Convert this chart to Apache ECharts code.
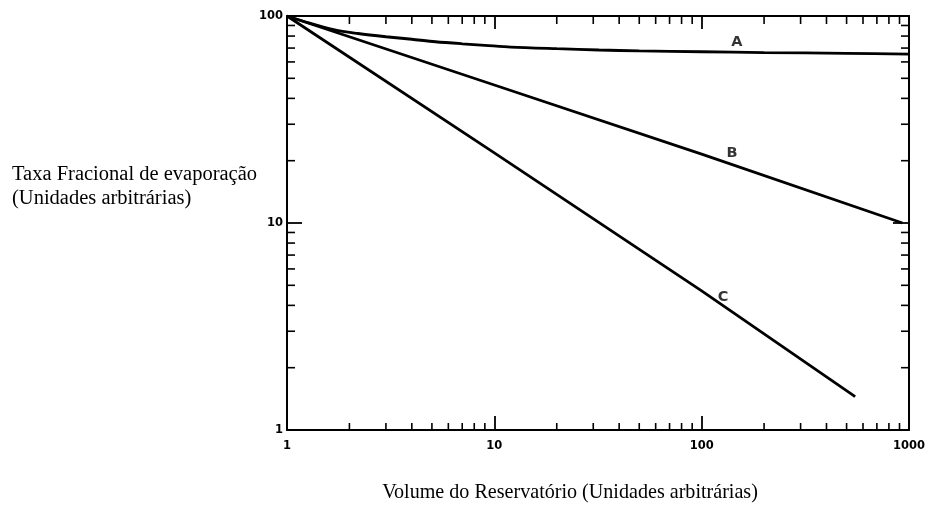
<!DOCTYPE html>
<html>
<head>
<meta charset="utf-8">
<script src="https://cdn.jsdelivr.net/npm/echarts@6/dist/echarts.min.js"></script>
<style>
html,body{margin:0;padding:0;background:#fff;}
#chart{width:925px;height:506px;}
</style>
</head>
<body>
<div id="chart"></div>
<script>
// Data (log-log)
const curveA = [[1,100],[1.22,93.8],[1.7,85.6],[2.2,82.3],[3,79.4],[4,77.2],[5.2,75.1],[7,73.4],[9,72.2],[12,70.8],[20,69.5],[32,68.5],[50,67.8],[100,67.2],[200,66.6],[500,66],[1000,65.5]];
const curveB = [[1,100],[10,46.4],[100,21.5],[930,10]];
const curveC = [[1,100],[10,21.8],[100,4.7],[550,1.45]];
const curveLabels = ['A','B','C'];
const labelPos = [[148,74.9],[140,21.8],[127,4.39]];
const xMinorTicks = [2,3,4,5,6,7,8,9,20,30,40,50,60,70,80,90,200,300,400,500,600,700,800,900];
const yMinorTicks = [2,3,4,5,6,7,8,9,20,30,40,50,60,70,80,90];
const xTickLabels = {1:'1', 10:'10', 100:'100', 1000:'1000'};
const yTickLabels = {1:'1', 10:'10', 100:'100'};
const xRange = [1,1000];
const yRange = [1,100];
const yTitleLines = ['Taxa Fracional de evaporação','(Unidades arbitrárias)'];
const xTitle = 'Volume do Reservatório (Unidades arbitrárias)';

const chart = echarts.init(document.getElementById('chart'), null, {renderer:'canvas'});
const tickFont = {fontFamily:'DejaVu Sans', fontWeight:'bold', fontSize:11.5, color:'#000'};
const lineStyleBase = {color:'#000', width:2.8};

function lab(map){ return function(v){ const k = Math.round(v); return map[k] !== undefined ? map[k] : ''; }; }

function xTickRender(params, api){
  const v = api.value(0);
  const b = api.coord([v, yRange[0]]);
  const t = api.coord([v, yRange[1]]);
  return {type:'group', children:[
    {type:'line', shape:{x1:b[0],y1:b[1],x2:b[0],y2:b[1]-7}, style:{stroke:'#000', lineWidth:1.6}},
    {type:'line', shape:{x1:t[0],y1:t[1],x2:t[0],y2:t[1]+8}, style:{stroke:'#000', lineWidth:1.6}}
  ]};
}
function yTickRender(params, api){
  const v = api.value(1);
  const l = api.coord([xRange[0], v]);
  const r = api.coord([xRange[1], v]);
  return {type:'group', children:[
    {type:'line', shape:{x1:l[0],y1:l[1],x2:l[0]+8,y2:l[1]}, style:{stroke:'#000', lineWidth:1.6}},
    {type:'line', shape:{x1:r[0],y1:r[1],x2:r[0]-8,y2:r[1]}, style:{stroke:'#000', lineWidth:1.6}}
  ]};
}

const option = {
  animation:false,
  backgroundColor:'#fff',
  grid:{left:287, right:16, top:16, bottom:76, containLabel:false, outerBoundsMode:'none'},
  xAxis:[
    {type:'log', logBase:10, min:xRange[0], max:xRange[1], position:'bottom',
     axisLine:{show:true, onZero:false, lineStyle:{color:'#000', width:2}},
     axisTick:{show:true, inside:true, length:14, lineStyle:{color:'#000', width:1.8}},
     axisLabel:Object.assign({margin:10, formatter:lab(xTickLabels), hideOverlap:false}, tickFont),
     splitLine:{show:false}, minorTick:{show:false}},
    {type:'log', logBase:10, min:xRange[0], max:xRange[1], position:'top',
     axisLine:{show:true, onZero:false, lineStyle:{color:'#000', width:2}},
     axisTick:{show:true, inside:true, length:13, lineStyle:{color:'#000', width:1.8}},
     axisLabel:{show:false}, splitLine:{show:false}}
  ],
  yAxis:[
    {type:'log', logBase:10, min:yRange[0], max:yRange[1], position:'left',
     axisLine:{show:true, onZero:false, lineStyle:{color:'#000', width:2}},
     axisTick:{show:true, inside:true, length:15, lineStyle:{color:'#000', width:1.8}},
     axisLabel:Object.assign({margin:4, formatter:lab(yTickLabels)}, tickFont),
     splitLine:{show:false}},
    {type:'log', logBase:10, min:yRange[0], max:yRange[1], position:'right',
     axisLine:{show:true, onZero:false, lineStyle:{color:'#000', width:2}},
     axisTick:{show:true, inside:true, length:16, lineStyle:{color:'#000', width:1.8}},
     axisLabel:{show:false}, splitLine:{show:false}}
  ],
  series:[
    {type:'line', name:'A', data:curveA, smooth:0.3, showSymbol:false, lineStyle:lineStyleBase},
    {type:'line', name:'B', data:curveB, showSymbol:false, lineStyle:lineStyleBase},
    {type:'line', name:'C', data:curveC, showSymbol:false, lineStyle:lineStyleBase},
    {type:'custom', name:'xminor', renderItem:xTickRender, data:xMinorTicks.map(v=>[v, yRange[0]]), silent:true},
    {type:'custom', name:'yminor', renderItem:yTickRender, data:yMinorTicks.map(v=>[xRange[0], v]), silent:true},
    {type:'scatter', name:'labels', symbolSize:0,
     data:curveLabels.map((n,i)=>({name:n, value:labelPos[i]})),
     label:{show:true, position:'inside', formatter:'{b}', fontFamily:'DejaVu Sans', fontWeight:'bold', fontSize:14.5, color:'#000'}}
  ],
  graphic:[
    {type:'text', left:12, top:163, style:{text:yTitleLines.join('\n'), fontFamily:'Liberation Serif', fontSize:20.5, lineHeight:24, fill:'#000'}},
    {type:'text', x:570, y:493, style:{text:xTitle, fontFamily:'Liberation Serif', fontSize:20.1, fill:'#000', align:'center', verticalAlign:'middle'}}
  ]
};
chart.setOption(option);
</script>
</body>
</html>
